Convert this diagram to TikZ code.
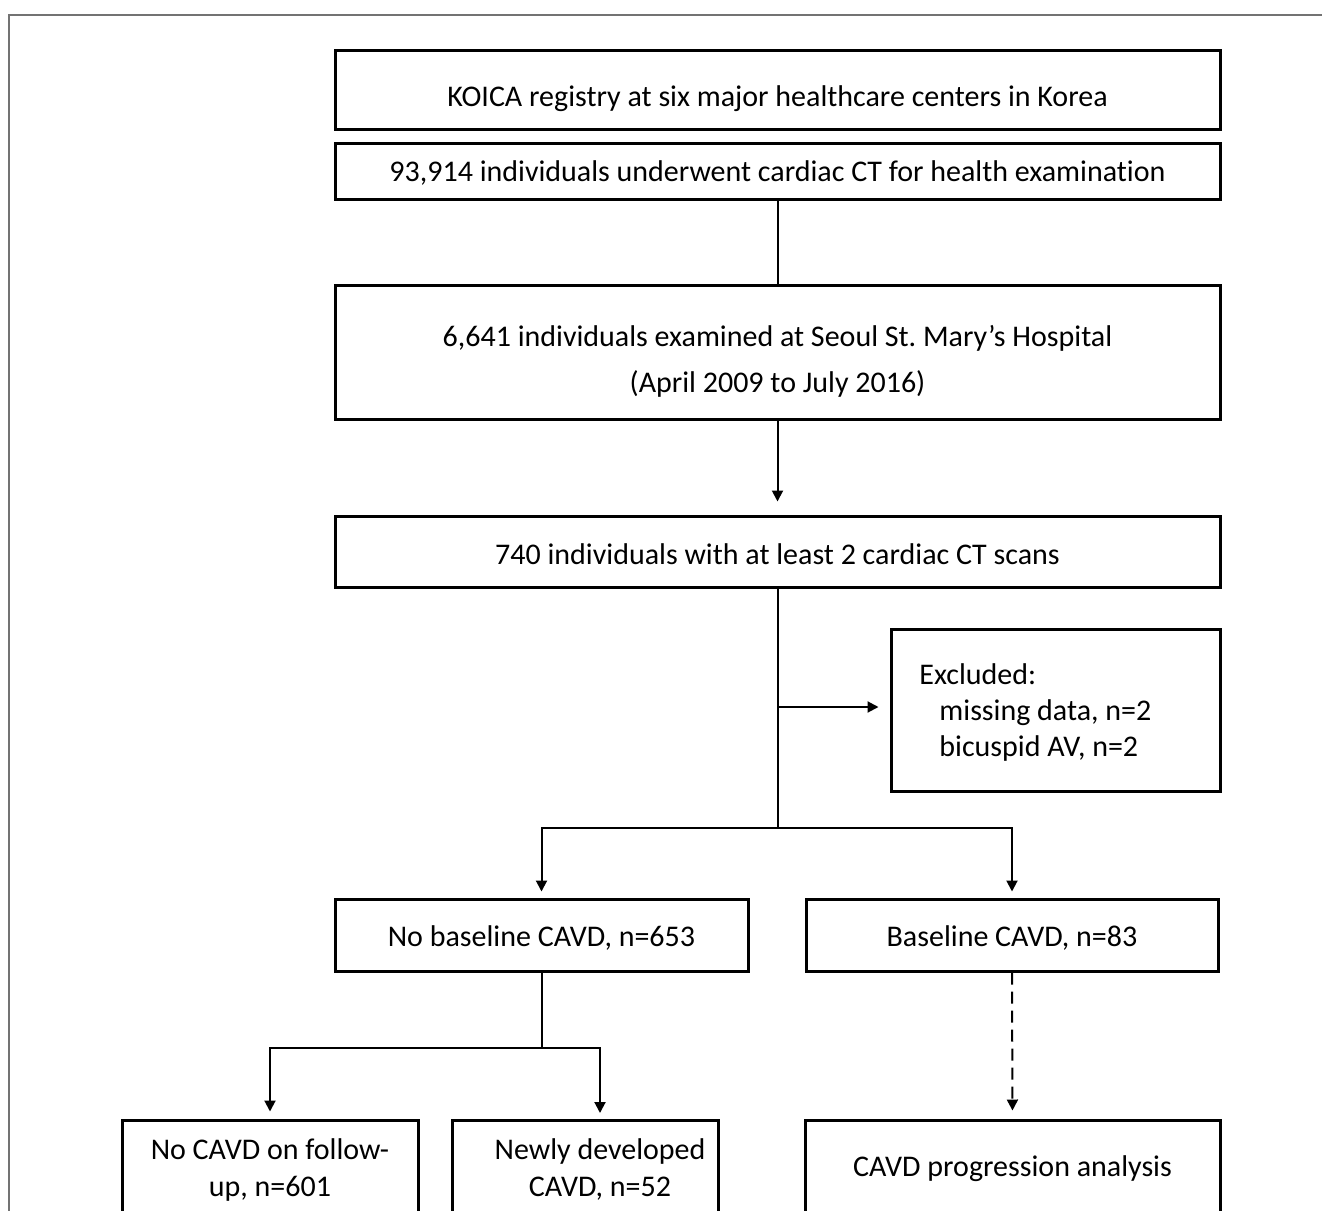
\documentclass[tikz,border=0pt]{standalone}
\usepackage{fontspec}
\setmainfont[Ligatures={NoCommon}]{Carlito}
\usetikzlibrary{arrows.meta}
\frenchspacing
\begin{document}
\begin{tikzpicture}[x=0.5pt,y=-0.5pt,
  box/.style={draw=black, line width=1.5pt, inner sep=0pt},
  txt/.style={inner sep=0pt, align=center, font=\fontsize{15pt}{23pt}\selectfont},
  conn/.style={line width=1pt, draw=black},
  arr/.style={conn, -{Triangle[length=5.5pt,width=5.5pt]}}]
\clip (0,0) rectangle (1322,1210);
\useasboundingbox (0,0) rectangle (1322,1210);
\draw[line width=0.75pt, draw=black!55] (9,1300) -- (9,15) -- (1400,15);
% boxes
\node[box, minimum width=442.5pt, minimum height=39.5pt] (b1) at (777.5,89.5) {};
\node[box, minimum width=442.5pt, minimum height=28pt] (b2) at (777.5,171) {};
\node[box, minimum width=442.5pt, minimum height=67pt] (b3) at (777.5,352) {};
\node[box, minimum width=442.5pt, minimum height=35.5pt] (b4) at (777.5,551.5) {};
\node[box, minimum width=164.5pt, minimum height=81pt] (ex) at (1055.5,710) {};
\node[box, minimum width=206.5pt, minimum height=36pt] (b5) at (541.5,935) {};
\node[box, minimum width=206pt, minimum height=36pt] (b6) at (1012,935) {};
\node[box, minimum width=148pt, minimum height=65pt] (b7) at (270,1185) {};
\node[box, minimum width=133pt, minimum height=65pt] (b8) at (585,1185) {};
\node[box, minimum width=207.5pt, minimum height=65pt] (b9) at (1012.5,1185) {};
% texts
\node[txt] (t1) at (777.5,99) {KOICA registry at six major healthcare centers in Korea};
\node[txt] (t2) at (777.5,173) {93,914 individuals underwent cardiac CT for health examination};
\node[txt] (t3) at (777.5,361) {6,641 individuals examined at Seoul St. Mary’s Hospital\\(April 2009 to July 2016)};
\node[txt] (t4) at (777.5,554) {740 individuals with at least 2 cardiac CT scans};
\node[txt, align=left, anchor=west, font=\fontsize{15pt}{18pt}\selectfont] (tex) at (919,712) {Excluded:\\\hspace*{10pt}missing data, n=2\\\hspace*{10pt}bicuspid AV, n=2};
\node[txt] (t5) at (541.5,938) {No baseline CAVD, n=653};
\node[txt] (t6) at (1012,938) {Baseline CAVD, n=83};
\node[txt, font=\fontsize{15pt}{18.5pt}\selectfont] (t7) at (270,1169.5) {No CAVD on follow-\\up, n=601};
\node[txt, font=\fontsize{15pt}{18.5pt}\selectfont] (t8) at (600,1169.5) {Newly developed\\CAVD, n=52};
\node[txt] (t9) at (1012.5,1169) {CAVD progression analysis};
% connectors
\coordinate (j1) at (777.5,707);
\coordinate (j2) at (777.5,828);
\coordinate (j3) at (541.5,1048);
\coordinate (p8) at (600,1120);
\draw[conn] (b2.south) -- (b3.north);
\draw[arr, shorten >=6.5pt] (b3.south) -- (b4.north);
\draw[conn] (b4.south) -- (j2);
\draw[arr, shorten >=5.5pt] (j1) -- (ex.west |- j1);
\draw[arr, shorten >=3pt] (j2) -| (b5.north);
\draw[arr, shorten >=3pt] (j2) -| (b6.north);
\draw[conn] (b5.south) -- (j3);
\draw[arr, shorten >=3.5pt] (j3) -| (b7.north);
\draw[arr, shorten >=3.5pt] (j3) -| (p8);
\draw[arr, dashed, dash pattern=on 6pt off 3.5pt, shorten >=4pt] (b6.south) -- (b9.north);
\end{tikzpicture}
\end{document}
